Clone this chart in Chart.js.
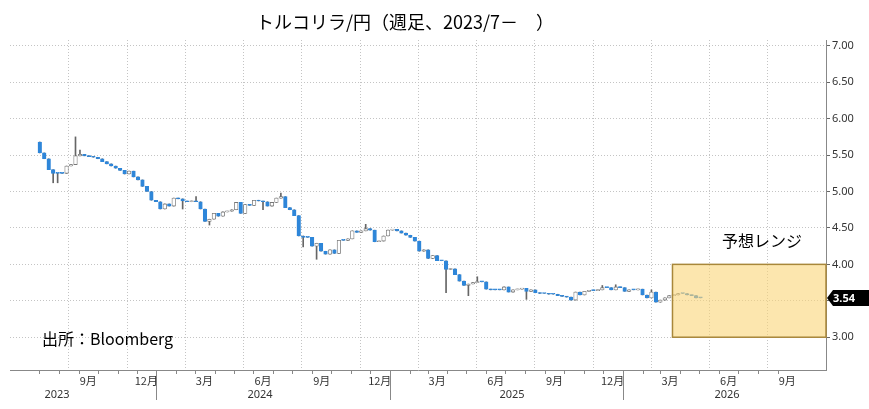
<!DOCTYPE html>
<html>
<head>
<meta charset="utf-8">
<script src="https://cdn.jsdelivr.net/npm/chart.js@4"></script>
<style>
  html, body { margin: 0; padding: 0; background: #fff; }
  #wrap { width: 869px; height: 409px; position: relative; }
</style>
</head>
<body>
<div id="wrap"><canvas id="candles" width="869" height="409"></canvas></div>
<script>
// weekly closes, TRY/JPY, from the first week of July 2023
var firstOpen = 5.68;
var closes = [
  5.53, 5.45, 5.30, 5.25, 5.25, 5.25, 5.35, 5.37, 5.49, 5.51,
  5.49, 5.48, 5.47, 5.45, 5.41, 5.38, 5.35, 5.32, 5.29, 5.24,
  5.28, 5.20, 5.16, 5.07, 5.00, 4.88, 4.86, 4.76, 4.83, 4.80,
  4.91, 4.90, 4.87, 4.86, 4.87, 4.86, 4.76, 4.59, 4.62, 4.70,
  4.66, 4.72, 4.73, 4.75, 4.85, 4.70, 4.82, 4.81, 4.88, 4.87,
  4.86, 4.80, 4.85, 4.91, 4.93, 4.78, 4.75, 4.67, 4.39, 4.37,
  4.37, 4.25, 4.29, 4.18, 4.14, 4.20, 4.15, 4.33, 4.33, 4.35,
  4.46, 4.44, 4.46, 4.49, 4.47, 4.31, 4.32, 4.39, 4.47, 4.48,
  4.46, 4.43, 4.40, 4.37, 4.32, 4.18, 4.20, 4.08, 4.12, 4.05,
  4.05, 3.93, 3.94, 3.86, 3.77, 3.71, 3.73, 3.75, 3.76, 3.76,
  3.66, 3.65, 3.65, 3.65, 3.69, 3.62, 3.65, 3.66, 3.67, 3.63,
  3.65, 3.61, 3.60, 3.60, 3.59, 3.59, 3.57, 3.56, 3.55, 3.51,
  3.62, 3.58, 3.63, 3.64, 3.64, 3.65, 3.68, 3.68, 3.65, 3.69,
  3.68, 3.63, 3.65, 3.65, 3.66, 3.58, 3.54, 3.62, 3.48, 3.51,
  3.54, 3.57, 3.58, 3.60, 3.60, 3.58, 3.57, 3.54, 3.54
];
// visible wicks: week index -> [low, high]
var wicks = {
  3: [5.12, null], 4: [5.12, null], 8: [null, 5.75], 9: [null, 5.57],
  32: [4.76, null], 35: [null, 4.93], 38: [4.54, null], 50: [4.75, null],
  54: [null, 4.98], 59: [4.24, null], 62: [4.07, null], 73: [null, 4.55],
  91: [3.61, null], 96: [3.57, null], 98: [null, 3.83], 109: [3.52, null],
  126: [null, 3.71], 129: [null, 3.72], 137: [null, 3.65]
};
var yTicks = [3.0, 3.5, 4.0, 4.5, 5.0, 5.5, 6.0, 6.5, 7.0];
var monthNames = ['9月', '12月', '3月', '6月'];
var rangeLow = 3.0, rangeHigh = 4.0;
var lastPrice = 3.54;

function day(y, m, d) {
  return (Date.UTC(y, m - 1, d || 1) - Date.UTC(2023, 6, 1)) / 86400000;
}

var bodies = [], sticks = [], bodyColors = [], borderColors = [];
closes.forEach(function (c, i) {
  var o = i === 0 ? firstOpen : closes[i - 1];
  var x = 7 * i + 1;
  bodies.push({ x: x, y: [o, c] });
  var w = wicks[i] || [null, null];
  var lo = w[0] != null ? w[0] : Math.min(o, c);
  var hi = w[1] != null ? w[1] : Math.max(o, c);
  sticks.push({ x: x, y: [lo, hi] });
  var up = c > o;
  bodyColors.push(up ? '#ffffff' : '#2e86d9');
  borderColors.push(up ? '#777777' : '#2e86d9');
});

var gridDays = [];
for (var k = 0; k <= 13; k++) {
  var mm = 7 + 3 * k;
  gridDays.push(day(2023 + Math.floor((mm - 1) / 12), ((mm - 1) % 12) + 1));
}

var overlay = {
  id: 'overlay',
  afterDatasetsDraw: function (chart) {
    var c = chart.ctx, xs = chart.scales.x, ys = chart.scales.y, a = chart.chartArea;
    // forecast box
    var x0 = xs.getPixelForValue(day(2026, 3, 20));
    var yt = ys.getPixelForValue(rangeHigh), yb = ys.getPixelForValue(rangeLow);
    c.save();
    c.fillStyle = 'rgba(250, 214, 120, 0.6)';
    c.fillRect(x0, yt, a.right - x0, yb - yt);
    c.strokeStyle = '#a8873a';
    c.lineWidth = 1.5;
    c.strokeRect(x0, yt, a.right - x0, yb - yt);
    c.restore();
  },
  afterDraw: function (chart) {
    var c = chart.ctx, xs = chart.scales.x, ys = chart.scales.y, a = chart.chartArea;
    c.save();
    // month ticks on the bottom axis
    c.strokeStyle = '#888';
    c.lineWidth = 1;
    for (var m = 7; m <= 45; m++) {
      var d = day(2023 + Math.floor((m - 1) / 12), ((m - 1) % 12) + 1);
      var px = Math.round(xs.getPixelForValue(d)) + 0.5;
      var len = ((m - 1) % 12 === 0) ? 30 : 4;
      c.beginPath(); c.moveTo(px, a.bottom); c.lineTo(px, a.bottom + len); c.stroke();
    }
    // month labels centred on their month
    c.fillStyle = '#333';
    c.font = '11px "Noto Sans CJK JP", sans-serif';
    c.textAlign = 'center';
    c.textBaseline = 'middle';
    for (var q = 0; q < 13; q++) {
      var mo = 9 + 3 * q;
      var yr = 2023 + Math.floor((mo - 1) / 12);
      var mn = ((mo - 1) % 12) + 1;
      c.fillText(monthNames[q % 4], xs.getPixelForValue(day(yr, mn, 16)), a.bottom + 11);
    }
    c.font = '11px "Noto Sans", sans-serif';
    [['2023', 57], ['2024', 260], ['2025', 512], ['2026', 727]].forEach(function (t) {
      c.fillText(t[0], t[1], a.bottom + 25);
    });
    // title and notes
    c.fillStyle = '#000';
    c.font = '18px "Noto Sans CJK JP", sans-serif';
    c.fillText('トルコリラ/円（週足、2023/7－　）', 405, 22);
    c.font = '16px "Noto Sans CJK JP", sans-serif';
    c.textAlign = 'left';
    c.fillText('出所：Bloomberg', 42, 339);
    c.fillText('予想レンジ', 722, 241);
    // last price tag
    var py = ys.getPixelForValue(lastPrice);
    c.fillStyle = '#000';
    c.beginPath();
    c.moveTo(a.right + 1, py);
    c.lineTo(a.right + 7, py - 8);
    c.lineTo(869, py - 8);
    c.lineTo(869, py + 8);
    c.lineTo(a.right + 7, py + 8);
    c.closePath();
    c.fill();
    c.fillStyle = '#fff';
    c.font = 'bold 11px "Noto Sans", sans-serif';
    c.fillText(lastPrice.toFixed(2), a.right + 7, py + 1);
    c.restore();
  }
};

var ctx = document.getElementById('candles').getContext('2d');
var myChart = new Chart(ctx, {
  type: 'bar',
  data: {
    datasets: [{
      label: 'wick',
      data: sticks,
      backgroundColor: '#666',
      barThickness: 1,
      grouped: false,
      order: 2
    }, {
      label: 'body',
      data: bodies,
      backgroundColor: bodyColors,
      borderColor: borderColors,
      borderWidth: 0.8,
      borderSkipped: false,
      barThickness: 3.6,
      minBarLength: 1,
      grouped: false,
      order: 1
    }]
  },
  plugins: [overlay],
  options: {
    responsive: false,
    animation: false,
    devicePixelRatio: 1,
    layout: { padding: { left: 10, top: 40, bottom: 39, right: 0 } },
    plugins: { legend: { display: false }, tooltip: { enabled: false } },
    scales: {
      x: {
        type: 'linear',
        min: 0,
        max: day(2026, 10),
        afterBuildTicks: function (s) { s.ticks = gridDays.map(function (v) { return { value: v }; }); },
        afterFit: function (s) { s.height = 0; },
        ticks: { display: false },
        grid: { color: '#c4c4c4', drawTicks: false },
        border: { display: true, color: '#888', dash: [1, 2] }
      },
      y: {
        position: 'right',
        min: 2.55,
        max: 7.08,
        afterBuildTicks: function (s) { s.ticks = yTicks.map(function (v) { return { value: v }; }); },
        afterFit: function (s) { s.width = 43; },
        ticks: {
          color: '#333',
          padding: 2,
          font: { size: 11, family: '"Noto Sans", sans-serif' },
          callback: function (v) { return v.toFixed(2); }
        },
        grid: { color: '#c4c4c4', tickLength: 4, tickColor: '#666' },
        border: { display: true, color: '#888', dash: [1, 2] }
      }
    }
  }
});
</script>
</body>
</html>
